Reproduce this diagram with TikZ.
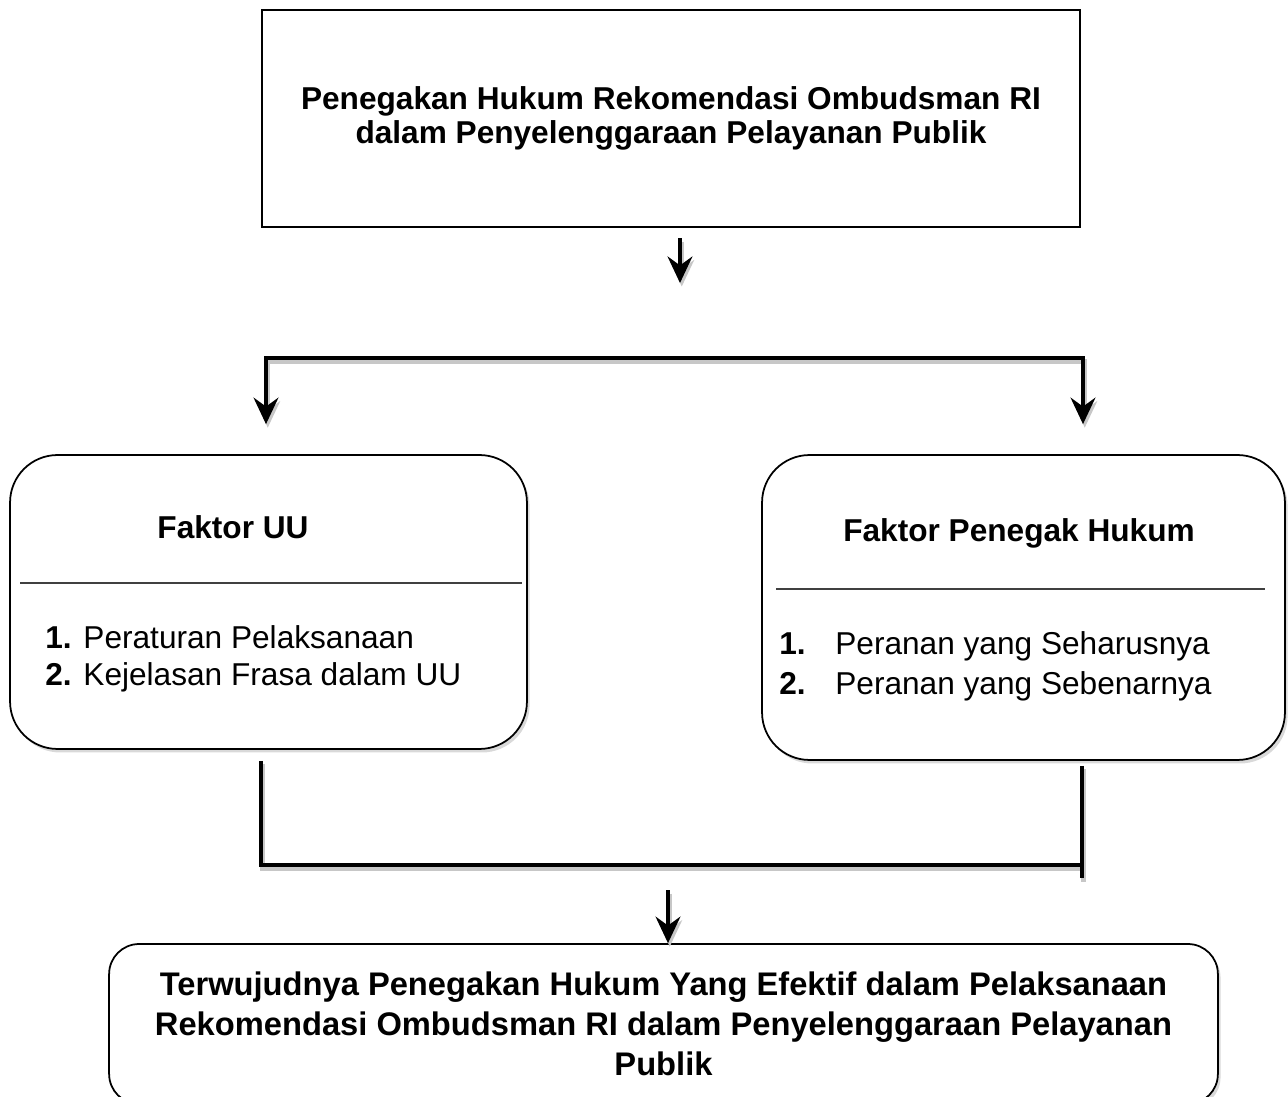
\documentclass[tikz,border=0pt]{standalone}
\usepackage{fontspec}
\setmainfont{Liberation Sans}
\usepackage{tikz}
\usetikzlibrary{arrows.meta,positioning,calc,shadows}
\tikzset{
  kfbox/.style={
    rectangle, draw=black, fill=white, line width=1.5pt,
    inner sep=0pt, align=center, font=\fontsize{18}{19.4}\selectfont\bfseries
  },
  kfround/.style={
    rectangle, rounded corners=0.95cm, draw=black, fill=white, line width=1pt,
    inner sep=0pt, drop shadow={shadow xshift=1.5pt,shadow yshift=-2pt,opacity=0.3}
  },
  kfhead/.style={font=\fontsize{18}{21}\selectfont\bfseries,inner sep=0pt},
  kfitem/.style={font=\fontsize{18}{21}\selectfont,align=left,inner sep=0pt},
  kfrule/.style={line width=0.6pt,draw=black!75},
  kfline/.style={line width=2.8pt,
    preaction={draw=black!22,line width=2.8pt,transform canvas={shift={(1pt,-2pt)}}}},
  kfflow/.style={kfline,-{Stealth[length=15pt,width=14pt,inset=5pt]}}
}
\begin{document}
\begin{tikzpicture}[x=0.02cm,y=-0.02cm]
  \useasboundingbox (0,0) rectangle (1288,1097);
  % boxes
  \node[kfbox,minimum width=16.36cm,minimum height=4.34cm] (judul) at (671,118.5)
    {Penegakan Hukum Rekomendasi Ombudsman RI\\dalam Penyelenggaraan Pelayanan Publik};
  \node[kfround,minimum width=10.34cm,minimum height=5.88cm] (faktorUU) at (268.5,602) {};
  \node[kfround,minimum width=10.46cm,minimum height=6.1cm] (faktorPH) at (1023.5,607.5) {};
  \node[kfround,rounded corners=0.6cm,minimum width=22.18cm,minimum height=3.2cm,
    align=center,font=\fontsize{18.6}{22.6}\selectfont\bfseries] (hasil) at (663.5,1024)
    {Terwujudnya Penegakan Hukum Yang Efektif dalam Pelaksanaan\\
     Rekomendasi Ombudsman RI dalam Penyelenggaraan Pelayanan\\Publik};
  % faktor UU
  \node[kfhead] (uuJudul) at (233,527) {Faktor UU};
  \draw[kfrule] (20,583) -- (522,583);
  \node[kfitem,anchor=west] (uuIsi) at (45,659)
    {\textbf{1.} Peraturan Pelaksanaan\\\textbf{2.} Kejelasan Frasa dalam UU};
  % faktor penegak hukum
  \node[kfhead] (phJudul) at (1019,533) {Faktor Penegak Hukum};
  \draw[kfrule] (776,589) -- (1265,589);
  \node[kfitem,anchor=west,font=\fontsize{18}{22.7}\selectfont] (phIsi) at (779,666)
    {\makebox[1.12cm][l]{\textbf{1.}}Peranan yang Seharusnya\\
     \makebox[1.12cm][l]{\textbf{2.}}Peranan yang Sebenarnya};
  % connectors
  \coordinate (t1) at (680,283);
  \coordinate (bL) at (266,358);
  \coordinate (bR) at (1083,358);
  \coordinate (jL) at (261,865);
  \coordinate (jR) at (1082,865);
  \coordinate (t3) at (668,890);
  \draw[kfflow,shorten <=0.2cm] (judul.south -| t1) -- (t1);
  \draw[kfflow,shorten >=0.6cm] (bR) -- (bL) -- (bL |- faktorUU.north);
  \draw[kfflow,shorten >=0.6cm] (bL) -- (bR) -- (bR |- faktorPH.north);
  \draw[kfline] ($(jL |- faktorUU.south)+(0,11)$) -- (jL) -- (jR);
  \draw[kfline] ($(jR |- faktorPH.south)+(0,5)$) -- ($(jR)+(0,13)$);
  \draw[kfflow] (t3) -- (t3 |- hasil.north);
\end{tikzpicture}
\end{document}
